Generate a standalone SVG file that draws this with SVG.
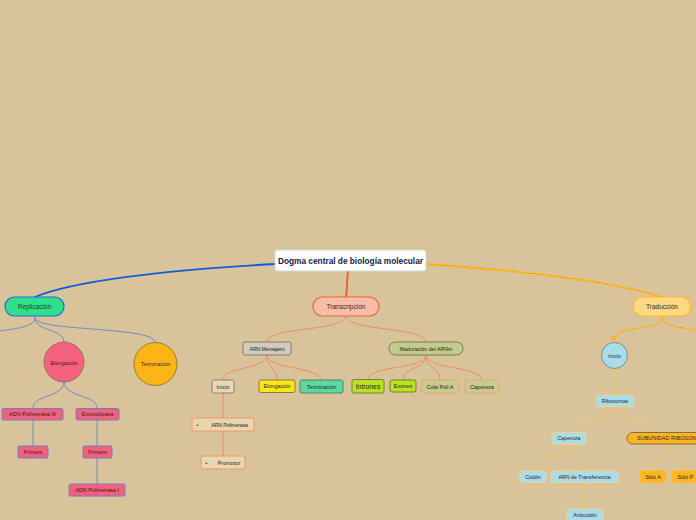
<svg xmlns="http://www.w3.org/2000/svg" width="696" height="520" viewBox="0 0 696 520">
<defs>
<style>
.t{font-family:"Liberation Sans",Arial,sans-serif;font-size:6px;text-anchor:middle;dominant-baseline:central;fill:#26261c}
.main{font-family:"Liberation Sans",Arial,sans-serif;font-size:9px;font-weight:bold;text-anchor:middle;dominant-baseline:central;fill:#12224a}
.br{fill:none;stroke-linecap:round}
.rep{stroke:#6a8ccc;stroke-width:1}
.tra{stroke:#f0875a;stroke-width:0.9}
.trd{stroke:#f0c860;stroke-width:1}
.pink{fill:#f2607a;stroke:#7080c8;stroke-width:1}
.blue{fill:#a9dde9;stroke:#f0d488;stroke-width:1}
</style>
<marker id="arr" viewBox="0 0 6 6" refX="5" refY="3" markerWidth="5" markerHeight="5" orient="auto">
<path d="M0 0 L6 3 L0 6 Z" fill="#ffb41e"/>
</marker>
</defs>
<rect width="696" height="520" fill="#d9c39a"/>
<g id="connectors">
<path class="br" d="M276 264 C160 270 70 282 35 297" stroke="#0b5ed7" stroke-width="1.8"/>
<path class="br" d="M348 271 C347 282 347 290 346 297" stroke="#f05a2a" stroke-width="1.8"/>
<path class="br" d="M426 264 C540 272 620 284 662 297" stroke="#ffb20f" stroke-width="1.8"/>
<path class="br rep" d="M35 318 C35 328 10 329 0 331"/>
<path class="br rep" d="M35 318 C35 332 64 328 64 342"/>
<path class="br rep" d="M35 318 C35 332 155 326 155 342"/>
<path class="br rep" d="M64 382 C64 398 33 394 33 408"/>
<path class="br rep" d="M64 382 C64 398 97 394 97 408"/>
<path class="br rep" d="M33 420 L33 446"/>
<path class="br rep" d="M97 420 L97 446"/>
<path class="br rep" d="M97 458 L97 484"/>
<path class="br tra" d="M346 316 C346 332 267 326 267 342"/>
<path class="br tra" d="M346 316 C346 332 426 326 426 342"/>
<path class="br tra" d="M267 355 C267 370 223 366 223 380"/>
<path class="br tra" d="M267 355 C267 370 277 366 277 380"/>
<path class="br tra" d="M267 355 C267 370 321 366 321 380"/>
<path class="br tra" d="M426 355 C426 370 368 365 368 379"/>
<path class="br tra" d="M426 355 C426 370 403 366 403 380"/>
<path class="br tra" d="M426 355 C426 370 440 366 440 380"/>
<path class="br tra" d="M426 355 C426 370 482 366 482 380"/>
<path class="br tra" d="M223 393 L223 418"/>
<path class="br tra" d="M223 431 L223 456"/>
<path class="br" d="M662 316 C662 334 614 322 614 341" stroke="#ffb41e" stroke-width="1.3" marker-end="url(#arr)"/>
<path class="br" d="M662 316 C662 326 680 328 696 330" stroke="#ffb41e" stroke-width="1.5"/>
<path class="br trd" d="M615 368 L615 395"/>
<path class="br trd" d="M615 406 C615 422 569 417 569 432"/>
<path class="br trd" d="M615 406 C615 422 662 417 662 432"/>
<path class="br trd" d="M569 444 C569 460 533 456 533 471"/>
<path class="br trd" d="M569 444 C569 460 584 456 584 471"/>
<path class="br trd" d="M585 482 L585 509"/>
<path class="br trd" d="M669 444 C669 460 653 456 653 470"/>
<path class="br trd" d="M669 444 C669 460 685 456 685 470"/>
</g>
<g id="root">
<rect x="275" y="250" width="151" height="21" rx="2" fill="#ffffff" stroke="#c6dede" stroke-width="1"/>
<text class="main" x="350.5" y="261" textLength="145" lengthAdjust="spacingAndGlyphs">Dogma central de biología molecular</text>
</g>
<g id="replicacion">
<rect x="5" y="297" width="59" height="19" rx="9.5" fill="#2fe08a" stroke="#2e6ad8" stroke-width="1.2"/>
<text class="t" x="34.5" y="306.5" style="font-size:6.5px;fill:#1a4026">Replicación</text>
</g>
<g id="rep-elongacion">
<circle cx="64" cy="362" r="20" fill="#f5627e" stroke="#7d6a6a" stroke-width="0.8"/>
<text class="t" x="64" y="362.5" style="font-size:5.5px;fill:#3a1a22">Elongación</text>
</g>
<g id="rep-terminacion">
<circle cx="155.5" cy="364" r="21.5" fill="#fdb515" stroke="#8a6a2a" stroke-width="0.8"/>
<text class="t" x="155.5" y="364" style="font-size:5.5px;fill:#3a2a1a">Terminación</text>
</g>
<g id="adn-pol-3">
<rect class="pink" x="2" y="408.5" width="61" height="11.5" rx="1.5"/>
<text class="t" x="32.5" y="414.3" style="font-size:5.5px;fill:#3a1a2a">ADN Polimerasa III</text>
</g>
<g id="exonucleasa">
<rect class="pink" x="76" y="408.5" width="43" height="11.5" rx="1.5"/>
<text class="t" x="97.5" y="414.3" style="font-size:5.5px;fill:#3a1a2a">Exonucleasa</text>
</g>
<g id="primers-1">
<rect class="pink" x="18" y="446" width="30" height="12" rx="1.5"/>
<text class="t" x="33" y="452" style="font-size:5.5px;fill:#3a1a2a">Primers</text>
</g>
<g id="primers-2">
<rect class="pink" x="83" y="446" width="29" height="12" rx="1.5"/>
<text class="t" x="97.5" y="452" style="font-size:5.5px;fill:#3a1a2a">Primers</text>
</g>
<g id="adn-pol-1">
<rect class="pink" x="69" y="484" width="56" height="12" rx="1.5"/>
<text class="t" x="97" y="490" style="font-size:5.5px;fill:#3a1a2a">ADN Polimerasa I</text>
</g>
<g id="transcripcion">
<rect x="313" y="297" width="66" height="19" rx="9.5" fill="#f8bca8" stroke="#f2653a" stroke-width="1.2"/>
<text class="t" x="346" y="306.5" style="font-size:6.5px;fill:#26322a">Transcripción</text>
</g>
<g id="arn-mensajero">
<rect x="243" y="342" width="48" height="13" rx="2" fill="#d2cabc" stroke="#6f6a5c" stroke-width="0.8"/>
<text class="t" x="267" y="348.5" style="font-size:5.3px;letter-spacing:-0.2px">ARN Mensajero</text>
</g>
<g id="maduracion">
<rect x="389" y="342" width="74" height="13" rx="6.5" fill="#c3cc8c" stroke="#5f6d3e" stroke-width="0.8"/>
<text class="t" x="426" y="348.5" style="font-size:5.3px">Maduración del ARNm</text>
</g>
<g id="inicio-tr">
<rect x="212" y="380" width="22" height="13" rx="2" fill="#e9d8b8" stroke="#7a6c5a" stroke-width="0.8"/>
<text class="t" x="223" y="386.5" style="font-size:5.5px">Inicio</text>
</g>
<g id="elongacion-tr">
<rect x="259" y="380" width="36" height="12.5" rx="2" fill="#ffe51a" stroke="#6e6838" stroke-width="0.8"/>
<text class="t" x="277" y="386" style="font-size:5.5px">Elongación</text>
</g>
<g id="terminacion-tr">
<rect x="300" y="380" width="43" height="13" rx="2" fill="#5ad9a0" stroke="#4c6858" stroke-width="0.8"/>
<text class="t" x="321.5" y="386.7" style="font-size:5.5px">Terminación</text>
</g>
<g id="intrones">
<rect x="352" y="379.5" width="32" height="13.5" rx="2" fill="#b9e21e" stroke="#6b7a3a" stroke-width="0.9"/>
<text class="t" x="368" y="386.3" style="font-size:6.8px">Intrones</text>
</g>
<g id="exones">
<rect x="390" y="380" width="26" height="12" rx="2" fill="#b9e21e" stroke="#5d6a2a" stroke-width="0.8"/>
<text class="t" x="403" y="386" style="font-size:5.5px">Exones</text>
</g>
<g id="cola-poli-a">
<rect x="421" y="380" width="38" height="13" rx="2" fill="#c7cb90" stroke="#eea070" stroke-width="0.9"/>
<text class="t" x="440" y="386.5" style="font-size:5.5px">Cola Poli A</text>
</g>
<g id="caperuza-tr">
<rect x="465" y="380" width="34" height="13" rx="2" fill="#c7cb90" stroke="#eea070" stroke-width="0.9"/>
<text class="t" x="482" y="386.5" style="font-size:5.5px">Caperuza</text>
</g>
<g id="arn-polimerasa">
<rect x="192" y="418" width="62" height="13" rx="2" fill="#ead6ae" stroke="#f0925e" stroke-width="0.9"/>
<text class="t" x="197.5" y="424.5" style="font-size:5px">•</text>
<text class="t" x="229.5" y="424.5" style="font-size:5.3px;letter-spacing:-0.2px">ARN Polimerasa</text>
</g>
<g id="promotor">
<rect x="201" y="456" width="44" height="13" rx="2" fill="#ead6ae" stroke="#f0925e" stroke-width="0.9"/>
<text class="t" x="206.5" y="462.5" style="font-size:5px">•</text>
<text class="t" x="229" y="462.5" style="font-size:5.5px">Promotor</text>
</g>
<g id="traduccion">
<rect x="633" y="297" width="58" height="19" rx="9.5" fill="#ffd883" stroke="#ffb927" stroke-width="1.2"/>
<text class="t" x="662" y="306.5" style="font-size:6.5px;fill:#26322a">Traducción</text>
</g>
<g id="inicio-td">
<circle cx="614.5" cy="355.5" r="13" fill="#a9dde9" stroke="#6e7a7c" stroke-width="0.8"/>
<text class="t" x="614.5" y="355.8" style="font-size:5.3px;fill:#1e2e3a">Inicio</text>
</g>
<g id="ribosomas">
<rect class="blue" x="596" y="395" width="38" height="11.5" rx="1.5"/>
<text class="t" x="615" y="400.8" style="font-size:5.3px">Ribosomas</text>
</g>
<g id="caperuza-td">
<rect class="blue" x="552" y="432.5" width="34" height="11.5" rx="1.5"/>
<text class="t" x="569" y="438.3" style="font-size:5.3px">Caperuza</text>
</g>
<g id="subunidad">
<rect x="627" y="432.5" width="100" height="11.5" rx="5.75" fill="#ffb51f" stroke="#6b5a3a" stroke-width="0.8"/>
<text class="t" x="637" y="438.3" style="font-size:5.5px;text-anchor:start">SUBUNIDAD RIBOSOMAL</text>
</g>
<g id="codon">
<rect class="blue" x="520" y="471" width="26" height="11.5" rx="1.5"/>
<text class="t" x="533" y="476.8" style="font-size:5.3px">Codón</text>
</g>
<g id="arn-transferencia">
<rect class="blue" x="551" y="471" width="67" height="11.5" rx="1.5"/>
<text class="t" x="584.5" y="476.8" style="font-size:5.3px">ARN de Transferencia</text>
</g>
<g id="anticodon">
<rect class="blue" x="567" y="509" width="36" height="12" rx="1.5"/>
<text class="t" x="585" y="515" style="font-size:5.3px">Anticodón</text>
</g>
<g id="sitio-a">
<rect x="640" y="470.5" width="26" height="12" rx="1.5" fill="#ffb51f" stroke="#f5c040" stroke-width="0.8"/>
<text class="t" x="653" y="476.5" style="font-size:5.5px">Sitio A</text>
</g>
<g id="sitio-p">
<rect x="672" y="470.5" width="30" height="12" rx="1.5" fill="#ffb51f" stroke="#f5c040" stroke-width="0.8"/>
<text class="t" x="685.5" y="476.5" style="font-size:5.5px">Sitio P</text>
</g>
</svg>
